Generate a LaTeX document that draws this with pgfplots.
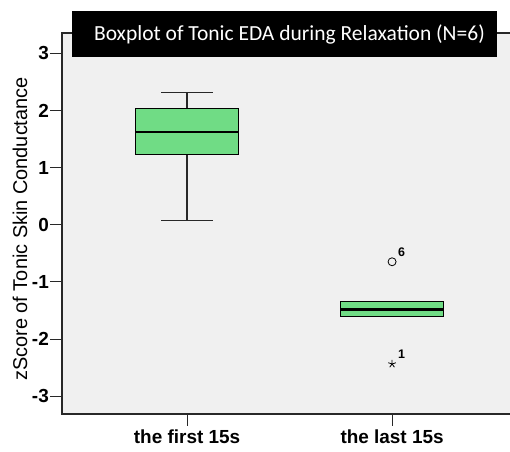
\documentclass[border=0pt]{standalone}
\usepackage{fontspec}
\setmainfont{Liberation Sans}
\newfontfamily\titlefont{Carlito}
\usepackage{pgfplots}
\pgfplotsset{compat=1.18}
\usepgfplotslibrary{statistics}
\definecolor{boxgreen}{RGB}{112,220,133}
\definecolor{bggray}{RGB}{240,240,240}
\definecolor{axisgray}{RGB}{40,40,40}
\begin{document}
\begin{tikzpicture}[x=1bp,y=1bp]
\useasboundingbox (0,0) rectangle (510,452);
\begin{axis}[
  at={(62bp,38bp)}, anchor=south west,
  scale only axis, width=458bp, height=381bp,
  xmin=-0.61, xmax=1.624, ymin=-3.31, ymax=3.355,
  boxplot/draw direction=y,
  axis background/.style={fill=bggray},
  axis line style={axisgray, line width=1.3bp},
  tick pos=left, tick align=outside, major tick length=12bp,
  tick style={axisgray, line width=1bp},
  xtick={0,1}, xticklabels={the first 15s, the last 15s},
  ytick={-3,-2,-1,0,1,2,3},
  /pgf/number format/assume math mode=true,
  ticklabel style={font=\bfseries\fontsize{19}{22}\selectfont},
  yticklabel style={inner xsep=1bp},
  ylabel={zScore of Tonic Skin Conductance},
  ylabel style={font=\fontsize{20}{24}\selectfont, at={(axis description cs:-0.0917,0.4856)}, anchor=center},
]
\addplot[draw=black, fill=boxgreen, line width=1.2bp,
  boxplot prepared={draw position=0, lower whisker=0.08, lower quartile=1.23,
    median=1.62, upper quartile=2.035, upper whisker=2.32,
    box extend=0.5, whisker extend=0.25,
    every median/.style={line width=2.4bp},
    every whisker/.style={draw=axisgray, line width=1.2bp}}] coordinates {};
\addplot[draw=black, fill=boxgreen, line width=1.2bp,
  boxplot prepared={draw position=1, lower whisker=-1.60, lower quartile=-1.60,
    median=-1.48, upper quartile=-1.346, upper whisker=-1.346,
    box extend=0.5, whisker extend=0.0,
    every median/.style={line width=2.4bp}}] coordinates {};
\addplot[only marks, mark=o, mark size=4bp, black, line width=0.8bp,
  point meta=explicit symbolic, nodes near coords,
  every node near coord/.append style={font=\bfseries\fontsize{12.5}{14}\selectfont, anchor=center, xshift=9.5bp, yshift=10bp}]
  coordinates {(1,-0.647) [6]};
\addplot[only marks, mark=star, mark size=4bp, black, line width=0.8bp,
  point meta=explicit symbolic, nodes near coords,
  every node near coord/.append style={font=\bfseries\fontsize{12.5}{14}\selectfont, anchor=center, xshift=9.5bp, yshift=10bp}]
  coordinates {(1,-2.435) [1]};
\end{axis}
\node[fill=black, text=white, minimum width=425bp, minimum height=46bp, inner sep=0pt,
  font=\titlefont\fontsize{21.6}{24}\selectfont] at (284.5,418) {\hspace*{10bp}Boxplot of Tonic EDA during Relaxation (N=6)};
\end{tikzpicture}
\end{document}
